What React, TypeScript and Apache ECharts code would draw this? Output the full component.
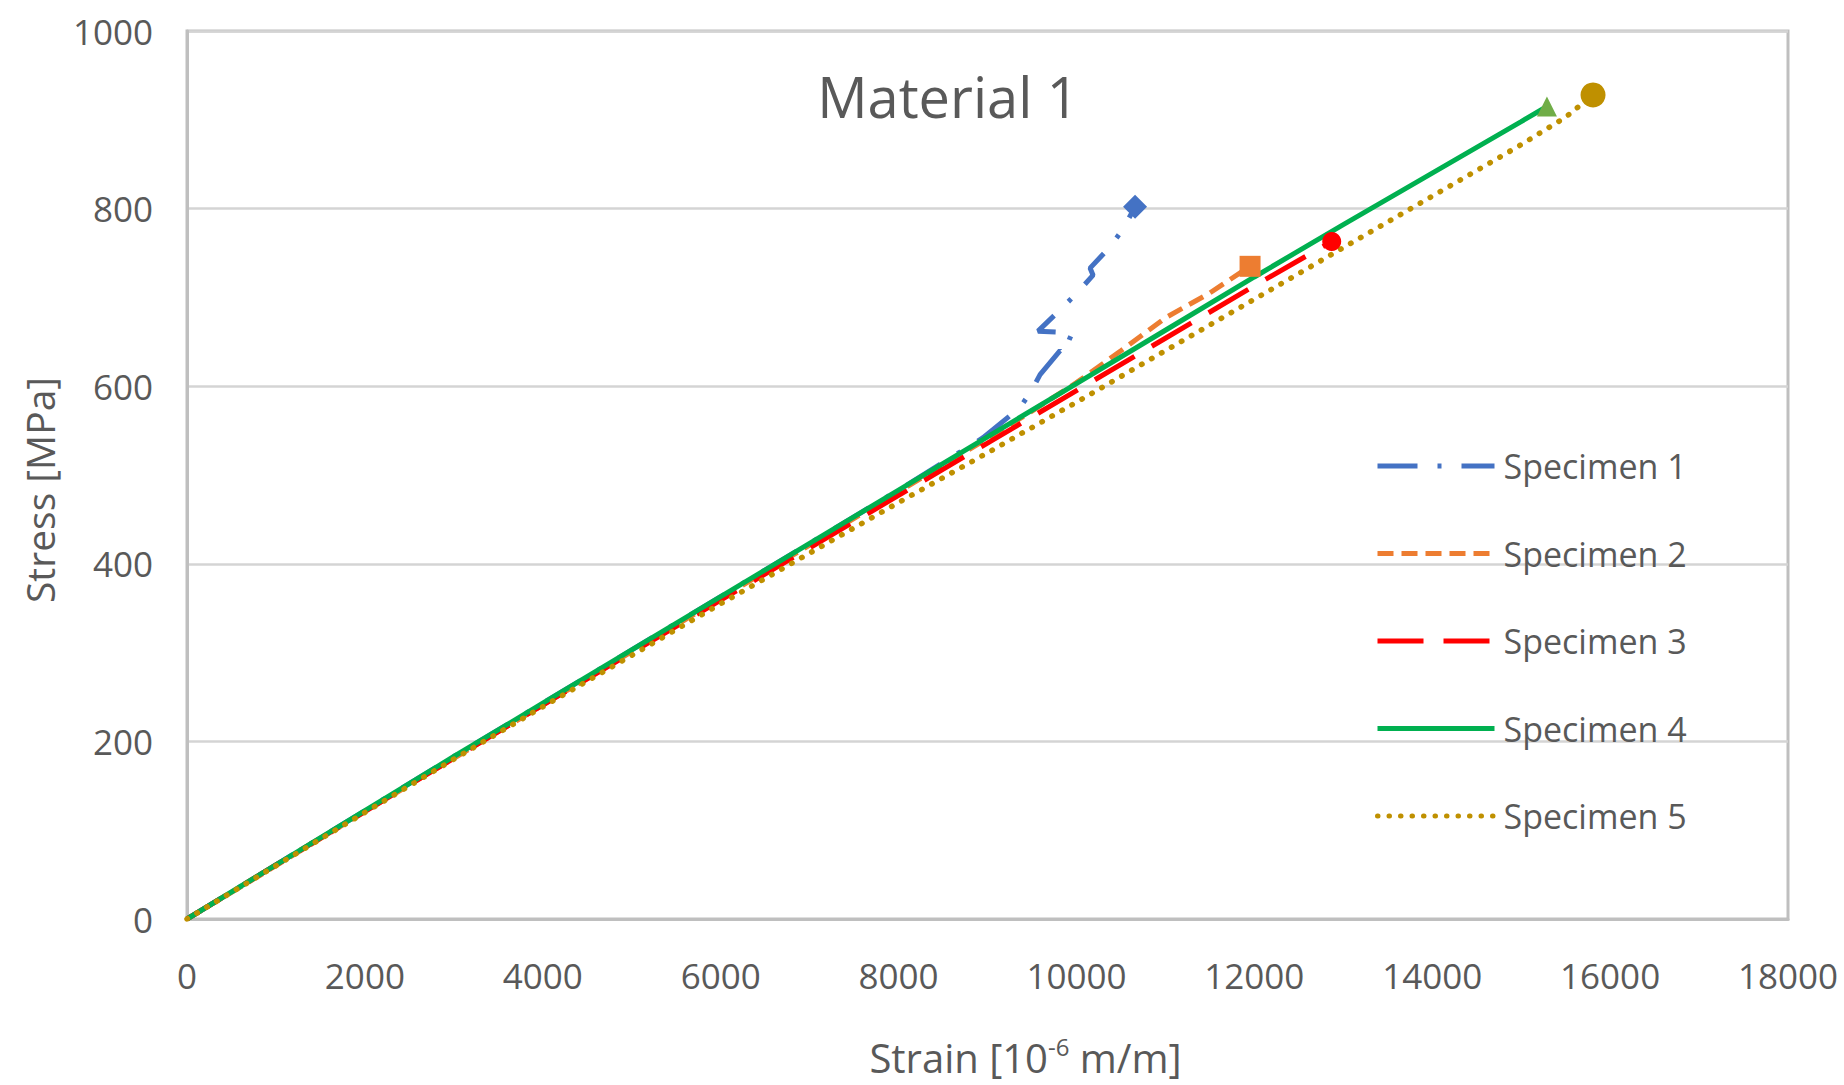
import React, { useEffect, useRef } from 'react';
import * as echarts from 'echarts';

const seriesNames = ['Specimen 1', 'Specimen 2', 'Specimen 3', 'Specimen 4', 'Specimen 5'];

const strain1 = [0, 1000, 2000, 3000, 4000, 5000, 6000, 7000, 8000, 8500, 8950, 9366, 9501, 9591, 9816, 9850, 9951, 9568, 9816, 10007, 10187, 10153, 10378, 10524, 10659];
const stress1 = [0, 61, 122, 183, 243, 303, 363, 423, 483, 514, 542, 576, 596, 613, 640, 636, 660, 662, 686, 705, 725, 733, 757, 777, 802];

const strain2 = [0, 1000, 2000, 3000, 4000, 5000, 6000, 7000, 8000, 9000, 9500, 10000, 10500, 11000, 11500, 11952];
const stress2 = [0, 60, 121, 181, 241, 301, 361, 421, 481, 541, 572, 604, 640, 677, 705, 735];

const strain3 = [0, 1000, 2000, 3000, 4000, 5000, 6000, 7000, 8000, 9000, 10000, 11000, 12000, 12870];
const stress3 = [0, 61, 121, 181, 241, 300, 359, 418, 477, 536, 595, 654, 713, 763];

const strain4 = [0, 1000, 2000, 3000, 4000, 5000, 6000, 7000, 8000, 9000, 10000, 11000, 12000, 13000, 14000, 15000, 15290];
const stress4 = [0, 61, 122, 183, 243, 303, 363, 423, 483, 543, 603, 663, 723, 782, 840, 898, 915];

const strain5 = [0, 1000, 2000, 3000, 4000, 5000, 6000, 7000, 8000, 9000, 10000, 11000, 12000, 13000, 14000, 15000, 15500, 15808];
const stress5 = [0, 60, 120, 180, 239, 297, 355, 412, 469, 525, 582, 640, 698, 756, 814, 872, 903, 928];

const strains = [strain1, strain2, strain3, strain4, strain5];
const stresses = [stress1, stress2, stress3, stress4, stress5];

const lineColors = ['#4472C4', '#ED7D31', '#FF0000', '#00B050', '#BF9000'];
const markerColors = ['#4472C4', '#ED7D31', '#FF0000', '#70AD47', '#BF9000'];
const markerSymbols = ['diamond', 'rect', 'circle', 'triangle', 'circle'];
const markerSizes = [24, 21, 19, 20, 25];
const dashTypes: any[] = [[40, 20, 4, 20], [16, 8], [46, 20], 'solid', [0.5, 11]];
const lineCaps = ['butt', 'butt', 'butt', 'butt', 'round'];

const FONT = '"Open Sans", "Liberation Sans", sans-serif';
const TEXT = '#595959';

export default function App() {
  const ref = useRef<HTMLDivElement>(null);
  useEffect(() => {
    const chart = echarts.init(ref.current!, null, { renderer: 'svg' });
    const series = seriesNames.map((name, i) => {
      const data = strains[i].map((x, k) => [x, stresses[i][k]]);
      const last = data[data.length - 1];
      return {
        type: 'line',
        name,
        data,
        symbol: 'none',
        smooth: false,
        lineStyle: { color: lineColors[i], width: i === 4 ? 5.5 : 5, type: dashTypes[i], cap: lineCaps[i] },
        itemStyle: { color: lineColors[i] },
        markPoint: {
          symbol: markerSymbols[i],
          symbolSize: markerSizes[i],
          label: { show: false },
          itemStyle: { color: markerColors[i] },
          data: [{ coord: last }],
        },
      };
    });
    chart.setOption({
      animation: false,
      textStyle: { fontFamily: FONT, color: TEXT },
      grid: {
        left: 187, top: 31, right: 56, bottom: 160,
        show: true, borderColor: '#bfbfbf', borderWidth: 3, backgroundColor: '#fff',
      },
      graphic: [{
        type: 'text', x: 948, y: 96,
        style: { text: 'Material 1', fontSize: 56, fontFamily: FONT, fill: TEXT, textAlign: 'center', textVerticalAlign: 'middle' },
      }],
      legend: {
        data: seriesNames,
        orient: 'vertical',
        left: 1370, top: 441,
        itemWidth: 117, itemHeight: 4, itemGap: 47.5,
        itemStyle: { opacity: 0 },
        lineStyle: { width: 5 },
        textStyle: { fontSize: 34, color: TEXT, fontFamily: FONT, lineHeight: 40, padding: [0, 0, 0, 4] },
      },
      xAxis: {
        type: 'value', min: 0, max: 18000, interval: 2000,
        name: 'Strain [10{sup|-6} m/m]', nameLocation: 'middle', nameGap: 115,
        nameTextStyle: {
          fontSize: 40, color: TEXT, fontFamily: FONT, lineHeight: 46, padding: [0, 0, 0, 76],
          rich: { sup: { fontSize: 24, lineHeight: 24, verticalAlign: 'top', color: TEXT, fontFamily: FONT } },
        },
        axisLine: { show: true, lineStyle: { color: '#bfbfbf', width: 3 } },
        axisTick: { show: false },
        splitLine: { show: false },
        axisLabel: { fontSize: 35, color: TEXT, margin: 39, fontFamily: FONT, formatter: (v: number) => String(v) },
      },
      yAxis: {
        type: 'value', min: 0, max: 1000, interval: 200,
        name: 'Stress [MPa]', nameLocation: 'middle', nameGap: 128,
        nameTextStyle: { fontSize: 39, color: TEXT, fontFamily: FONT, padding: [0, 30, 0, 0] },
        axisLine: { show: true, lineStyle: { color: '#bfbfbf', width: 3 } },
        axisTick: { show: false },
        splitLine: { show: true, lineStyle: { color: '#d4d4d4', width: 2.5 } },
        axisLabel: { fontSize: 35, color: TEXT, margin: 34, fontFamily: FONT, formatter: (v: number) => String(v) },
      },
      series,
    });
    return () => chart.dispose();
  }, []);
  return <div ref={ref} style={{ position: 'fixed', left: 0, top: 0, width: 1844, height: 1085, background: '#fff' }} />;
}
